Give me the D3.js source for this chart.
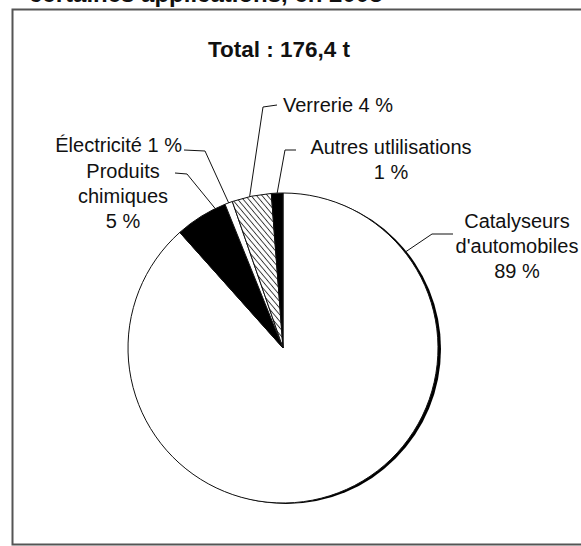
<!DOCTYPE html>
<html>
<head>
<meta charset="utf-8">
<script src="https://cdn.jsdelivr.net/npm/d3@7"></script>
<style>
  body { margin: 0; background: #fff; }
  text { font-family: Arial, "Liberation Sans", sans-serif; fill: #111; }
</style>
</head>
<body>
<div class="svg-container"></div>
<script>
// slices, clockwise from 12 o'clock
var categories = ["Catalyseurs d'automobiles", "Produits chimiques", "Électricité", "Verrerie", "Autres utlilisations"];
var shares = [88.4, 5.5, 0.8, 4.1, 1.2];
var fills = ["white", "black", "white", "hatch", "black"];

// label lines, one array per slice (same order)
var labelLines = [
  ["Catalyseurs", "d'automobiles", "89 %"],
  ["Produits", "chimiques", "5 %"],
  ["Électricité 1 %"],
  ["Verrerie 4 %"],
  ["Autres utlilisations", "1 %"]
];
var totalLabel = "Total : 176,4 t";
var headerText = "certaines applications, en 2003";

var width = 581, height = 546;
const cx = 283, cy = 348, radius = 155;

var svg = d3.select(".svg-container").append("svg")
  .attr("width", width)
  .attr("height", height);

// hatch pattern for verrerie
var defs = svg.append("defs");
var hatch = defs.append("pattern")
  .attr("id", "hatch")
  .attr("patternUnits", "userSpaceOnUse")
  .attr("width", 4.2)
  .attr("height", 4.2)
  .attr("patternTransform", "rotate(-40)");
hatch.append("rect")
  .attr("width", 4.2).attr("height", 4.2)
  .attr("fill", "white");
hatch.append("line")
  .attr("x1", 2.1).attr("y1", 0)
  .attr("x2", 2.1).attr("y2", 4.2)
  .attr("stroke", "#333")
  .attr("stroke-width", 0.9);

// cut-off header at the very top
svg.append("text")
  .attr("x", 29)
  .attr("y", 2)
  .attr("font-size", 24)
  .attr("font-weight", "bold")
  .text(headerText);

// frame (right side runs off the picture)
svg.append("path")
  .attr("d", "M" + (width + 5) + ",9.5 H12.5 V544.5 H" + (width + 5))
  .attr("fill", "none")
  .attr("stroke", "#555")
  .attr("stroke-width", 2);

svg.append("text")
  .attr("x", 279)
  .attr("y", 57)
  .attr("text-anchor", "middle")
  .attr("font-size", 22.5)
  .attr("font-weight", "bold")
  .text(totalLabel);

var pie = d3.pie().sort(null).value(function(d) { return d; });
var arcs = pie(shares);
var arc = d3.arc().innerRadius(0).outerRadius(radius);

var pieGroup = svg.append("g")
  .attr("transform", "translate(" + cx + "," + cy + ")");

// shadow on the right edge
pieGroup.append("circle")
  .attr("cx", 3)
  .attr("cy", 1)
  .attr("r", radius)
  .attr("fill", "black");

pieGroup.selectAll("path.slice")
  .data(arcs)
  .enter()
  .append("path")
  .attr("class", "slice")
  .attr("d", arc)
  .attr("fill", function(d, i) {
    return fills[i] == "hatch" ? "url(#hatch)" : fills[i];
  })
  .attr("stroke", "#111")
  .attr("stroke-width", 1)
  .attr("stroke-linejoin", "round");

// leader lines: anchor angle on the rim, elbow and end points
function rim(d, frac) {
  var a = d.startAngle + (d.endAngle - d.startAngle) * frac;
  return [cx + Math.sin(a) * radius, cy - Math.cos(a) * radius];
}

var leaders = [
  {slice: 0, frac: 0.163, elbow: [432, 234], end: [453, 234]},
  {slice: 1, frac: 0.8, elbow: [187, 174], end: [175, 173]},
  {slice: 2, frac: 0.5, elbow: [205, 151], end: [184, 150]},
  {slice: 3, frac: 0.45, elbow: [263, 107], end: [277, 105]},
  {slice: 4, frac: 0.5, elbow: [285, 150], end: [296, 150]}
];

svg.selectAll("path.leader")
  .data(leaders)
  .enter()
  .append("path")
  .attr("class", "leader")
  .attr("fill", "none")
  .attr("stroke", "#111")
  .attr("stroke-width", 1)
  .attr("d", function(l) {
    var p = rim(arcs[l.slice], l.frac);
    return "M" + p[0] + "," + p[1] + "L" + l.elbow[0] + "," + l.elbow[1] + "L" + l.end[0] + "," + l.end[1];
  });

// label blocks
var labelPos = [
  {x: 517, y: 228, anchor: "middle"},
  {x: 123, y: 178, anchor: "middle"},
  {x: 182, y: 152, anchor: "end"},
  {x: 283, y: 112, anchor: "start"},
  {x: 391, y: 154, anchor: "middle"}
];
const lineGap = 25;

labelLines.forEach(function(lines, i) {
  var t = svg.append("text")
    .attr("class", "slice-label")
    .attr("font-size", 20)
    .attr("text-anchor", labelPos[i].anchor);
  lines.forEach(function(s, j) {
    t.append("tspan")
      .attr("x", labelPos[i].x)
      .attr("y", labelPos[i].y + j * lineGap)
      .text(s);
  });
});
</script>
</body>
</html>
